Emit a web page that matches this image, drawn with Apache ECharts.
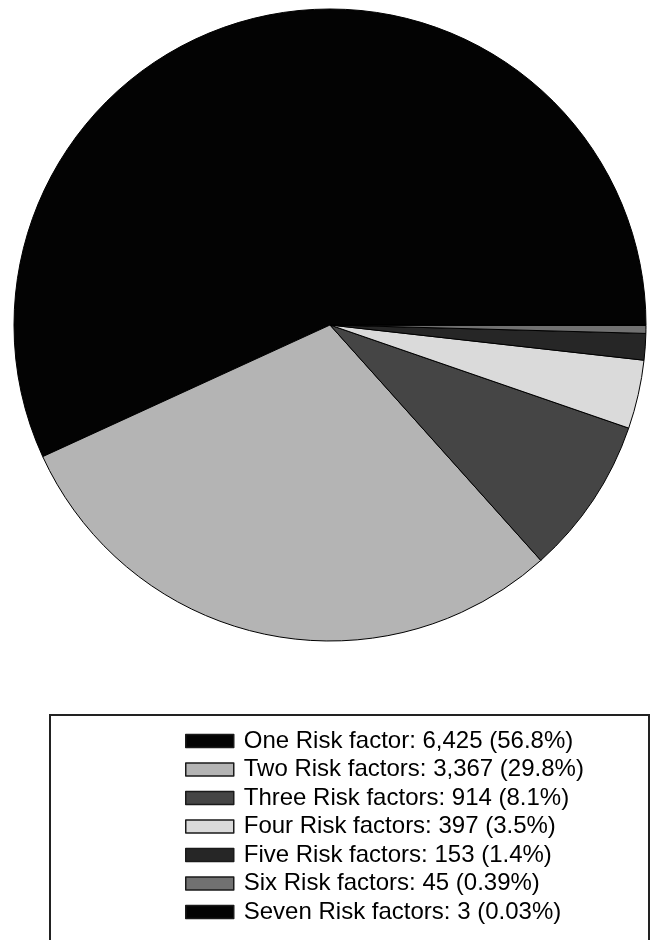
<!DOCTYPE html>
<html>
<head>
<meta charset="utf-8">
<script src="https://cdn.jsdelivr.net/npm/echarts@6/dist/echarts.min.js"></script>
<style>
  html, body { margin: 0; padding: 0; background: #fff; }
  #chart { width: 654px; height: 940px; }
</style>
</head>
<body>
<div id="chart"></div>
<script>
// Number of risk factors per patient
const categories = [
  'One Risk factor', 'Two Risk factors', 'Three Risk factors', 'Four Risk factors',
  'Five Risk factors', 'Six Risk factors', 'Seven Risk factors'
];
const counts = [6425, 3367, 914, 397, 153, 45, 3];
const shares = ['56.8%', '29.8%', '8.1%', '3.5%', '1.4%', '0.39%', '0.03%'];
const sliceColors = ['#030303', '#b4b4b4', '#454545', '#dadada', '#262626', '#717171', '#030303'];

const data = categories.map((name, i) => ({
  name: name,
  value: counts[i],
  itemStyle: { color: sliceColors[i] }
}));

const lookup = {};
categories.forEach((c, i) => { lookup[c] = i; });

const chart = echarts.init(document.getElementById('chart'), null, { renderer: 'canvas' });
chart.setOption({
  animation: false,
  backgroundColor: '#ffffff',
  graphic: [{
    type: 'rect',
    shape: { x: 50, y: 715, width: 599, height: 260 },
    style: { fill: 'none', stroke: '#222', lineWidth: 2 },
    silent: true
  }],
  legend: {
    orient: 'vertical',
    left: 185,
    top: 729,
    padding: 0,
    itemWidth: 48,
    itemHeight: 13,
    itemGap: 4.5,
    icon: 'rect',
    selectedMode: false,
    itemStyle: { borderColor: '#1a1a1a', borderWidth: 1.5 },
    textStyle: {
      fontFamily: 'Liberation Sans, Arial, sans-serif',
      fontSize: 24,
      lineHeight: 24,
      color: '#000',
      padding: [0, 0, 0, 5]
    },
    formatter: function (name) {
      const i = lookup[name];
      return name + ': ' + counts[i].toLocaleString('en-US') + ' (' + shares[i] + ')';
    },
    data: categories
  },
  series: [{
    type: 'pie',
    center: [330, 325],
    radius: [0, 316],
    startAngle: 0,
    clockwise: false,
    avoidLabelOverlap: false,
    label: { show: false },
    labelLine: { show: false },
    emphasis: { disabled: true },
    itemStyle: { borderColor: '#000', borderWidth: 1 },
    data: data
  }]
});
</script>
</body>
</html>
